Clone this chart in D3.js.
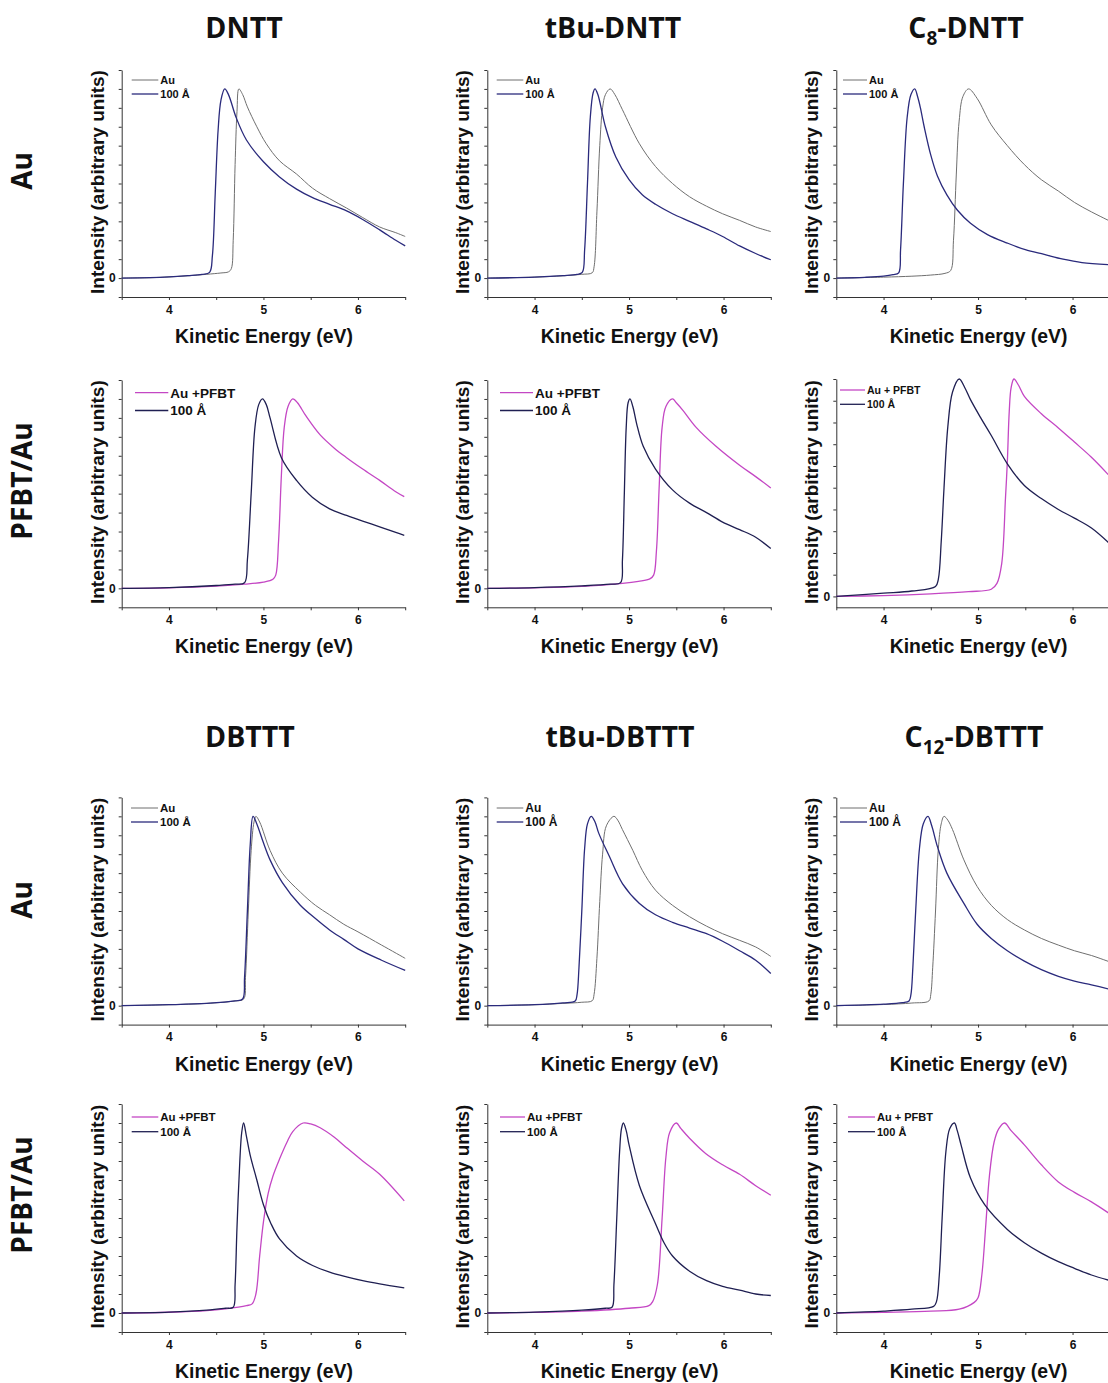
<!DOCTYPE html>
<html><head><meta charset="utf-8">
<script src="https://cdn.jsdelivr.net/npm/d3@7"></script>
<style>body{margin:0;background:#fff}</style>
</head><body><svg id="c" width="1108" height="1383"></svg>
<script>
// ---------- DATA (Kinetic energy eV, normalized intensity) ----------
// DNTT on Au
const dntt_Au = [[3.5,0],[3.8,0.002],[4.0,0.006],[4.2,0.012],[4.4,0.02],[4.55,0.027],[4.63,0.033],[4.66,0.05],[4.68,0.2],[4.70,0.6],[4.72,0.88],[4.74,1.0],[4.78,0.97],[4.83,0.905],[4.93,0.80],[5.03,0.71],[5.17,0.62],[5.35,0.55],[5.52,0.475],[5.7,0.42],[5.88,0.37],[6.05,0.32],[6.23,0.27],[6.4,0.24],[6.5,0.22]];
const dntt_100 = [[3.5,0],[3.8,0.002],[4.0,0.006],[4.2,0.013],[4.35,0.02],[4.43,0.03],[4.46,0.12],[4.49,0.45],[4.52,0.78],[4.55,0.94],[4.59,1.0],[4.63,0.97],[4.71,0.85],[4.82,0.73],[5.0,0.615],[5.17,0.535],[5.35,0.47],[5.52,0.425],[5.7,0.39],[5.88,0.355],[6.05,0.31],[6.23,0.255],[6.4,0.2],[6.5,0.17]];
// tBu-DNTT on Au
const tbuDntt_Au = [[3.5,0],[4.0,0.005],[4.3,0.012],[4.5,0.02],[4.61,0.028],[4.63,0.06],[4.66,0.35],[4.69,0.7],[4.72,0.9],[4.75,0.97],[4.80,1.0],[4.85,0.97],[4.93,0.89],[5.11,0.71],[5.28,0.59],[5.46,0.50],[5.64,0.43],[5.82,0.38],[5.99,0.34],[6.17,0.305],[6.34,0.27],[6.5,0.246]];
const tbuDntt_100 = [[3.5,0],[4.0,0.005],[4.3,0.013],[4.45,0.02],[4.505,0.03],[4.53,0.15],[4.56,0.5],[4.59,0.85],[4.62,0.98],[4.64,1.0],[4.67,0.97],[4.75,0.80],[4.86,0.64],[5.0,0.52],[5.14,0.44],[5.28,0.39],[5.46,0.34],[5.64,0.30],[5.82,0.26],[5.99,0.22],[6.17,0.17],[6.34,0.13],[6.5,0.097]];
// C8-DNTT on Au
const c8Dntt_Au = [[3.5,0],[4.0,0.005],[4.3,0.01],[4.5,0.016],[4.65,0.025],[4.71,0.04],[4.74,0.2],[4.77,0.55],[4.80,0.83],[4.84,0.96],[4.90,1.0],[4.99,0.95],[5.14,0.81],[5.31,0.70],[5.49,0.60],[5.67,0.52],[5.85,0.46],[6.02,0.40],[6.2,0.35],[6.4,0.30]];
const c8Dntt_100 = [[3.5,0],[3.8,0.004],[4.0,0.01],[4.1,0.018],[4.16,0.028],[4.18,0.15],[4.21,0.5],[4.25,0.85],[4.29,0.97],[4.33,1.0],[4.36,0.96],[4.39,0.90],[4.43,0.80],[4.50,0.65],[4.57,0.54],[4.67,0.44],[4.78,0.36],[4.92,0.29],[5.10,0.23],[5.31,0.185],[5.5,0.15],[5.7,0.125],[5.9,0.10],[6.1,0.082],[6.4,0.07]];
// DNTT on PFBT/Au
const dntt_PFBT = [[3.5,0],[4.0,0.003],[4.5,0.012],[4.8,0.022],[5.0,0.033],[5.1,0.048],[5.13,0.07],[5.16,0.25],[5.19,0.6],[5.22,0.85],[5.26,0.96],[5.31,1.0],[5.36,0.98],[5.45,0.91],[5.6,0.81],[5.75,0.74],[5.88,0.69],[6.05,0.63],[6.23,0.57],[6.4,0.51],[6.49,0.484]];
const dntt_P100 = [[3.5,0],[4.0,0.004],[4.5,0.015],[4.7,0.022],[4.80,0.03],[4.83,0.15],[4.87,0.5],[4.91,0.85],[4.95,0.97],[4.99,1.0],[5.03,0.97],[5.07,0.90],[5.19,0.69],[5.35,0.57],[5.52,0.48],[5.7,0.42],[5.88,0.385],[6.05,0.355],[6.23,0.325],[6.4,0.295],[6.49,0.28]];
// tBu-DNTT on PFBT/Au
const tbuDntt_PFBT = [[3.5,0],[4.0,0.003],[4.5,0.01],[4.93,0.026],[5.1,0.037],[5.22,0.05],[5.26,0.07],[5.29,0.2],[5.32,0.55],[5.35,0.85],[5.39,0.96],[5.46,1.0],[5.5,0.98],[5.57,0.94],[5.71,0.85],[5.92,0.75],[6.17,0.65],[6.34,0.59],[6.5,0.53]];
const tbuDntt_P100 = [[3.5,0],[4.0,0.004],[4.5,0.013],[4.8,0.022],[4.91,0.03],[4.93,0.15],[4.95,0.5],[4.97,0.85],[4.99,0.98],[5.01,1.0],[5.04,0.96],[5.08,0.87],[5.15,0.75],[5.28,0.63],[5.46,0.52],[5.64,0.45],[5.82,0.40],[5.99,0.35],[6.17,0.31],[6.34,0.27],[6.5,0.21]];
// C8-DNTT on PFBT/Au
const c8Dntt_PFBT = [[3.5,0],[4.0,0.004],[4.5,0.012],[4.9,0.022],[5.14,0.033],[5.20,0.06],[5.25,0.15],[5.29,0.45],[5.31,0.62],[5.33,0.85],[5.35,0.96],[5.38,1.0],[5.43,0.97],[5.49,0.92],[5.67,0.84],[5.85,0.775],[6.02,0.71],[6.2,0.64],[6.4,0.55]];
const c8Dntt_P100 = [[3.5,0],[4.0,0.015],[4.3,0.025],[4.55,0.046],[4.58,0.08],[4.61,0.25],[4.64,0.5],[4.68,0.78],[4.73,0.94],[4.80,1.0],[4.86,0.96],[4.92,0.905],[5.03,0.82],[5.14,0.74],[5.31,0.61],[5.49,0.51],[5.67,0.45],[5.85,0.40],[6.02,0.36],[6.2,0.315],[6.4,0.24]];
// DBTTT on Au
const dbttt_Au = [[3.5,0],[4.0,0.005],[4.4,0.012],[4.7,0.025],[4.79,0.035],[4.81,0.15],[4.84,0.5],[4.87,0.82],[4.90,0.97],[4.92,1.0],[4.96,0.97],[5.07,0.82],[5.2,0.70],[5.39,0.60],[5.55,0.53],[5.7,0.48],[5.85,0.43],[6.0,0.39],[6.25,0.32],[6.5,0.25]];
const dbttt_100 = [[3.5,0],[4.0,0.005],[4.4,0.012],[4.7,0.025],[4.78,0.035],[4.80,0.15],[4.83,0.5],[4.86,0.85],[4.89,1.0],[4.93,0.96],[5.0,0.86],[5.07,0.77],[5.2,0.65],[5.39,0.53],[5.55,0.46],[5.7,0.40],[5.85,0.35],[6.0,0.30],[6.25,0.24],[6.5,0.186]];
// tBu-DBTTT on Au
const tbuDbttt_Au = [[3.5,0],[4.0,0.005],[4.3,0.012],[4.5,0.018],[4.61,0.026],[4.63,0.06],[4.66,0.25],[4.69,0.55],[4.72,0.8],[4.76,0.95],[4.84,1.0],[4.88,0.98],[4.93,0.93],[5.04,0.82],[5.14,0.715],[5.28,0.61],[5.46,0.53],[5.64,0.47],[5.82,0.42],[5.99,0.38],[6.17,0.345],[6.34,0.31],[6.5,0.26]];
const tbuDbttt_100 = [[3.5,0],[4.0,0.005],[4.3,0.015],[4.43,0.025],[4.45,0.06],[4.47,0.2],[4.50,0.5],[4.53,0.83],[4.56,0.96],[4.60,1.0],[4.64,0.97],[4.68,0.91],[4.79,0.79],[4.93,0.645],[5.11,0.54],[5.28,0.48],[5.46,0.44],[5.64,0.41],[5.82,0.38],[5.99,0.34],[6.17,0.29],[6.34,0.24],[6.5,0.17]];
// C12-DBTTT on Au
const c12Dbttt_Au = [[3.5,0],[4.0,0.006],[4.3,0.014],[4.48,0.025],[4.50,0.06],[4.52,0.2],[4.55,0.5],[4.58,0.83],[4.61,0.96],[4.64,1.0],[4.68,0.98],[4.73,0.93],[4.85,0.77],[4.99,0.63],[5.14,0.53],[5.31,0.455],[5.49,0.40],[5.67,0.355],[5.85,0.32],[6.02,0.29],[6.2,0.265],[6.4,0.23]];
const c12Dbttt_100 = [[3.5,0],[4.0,0.008],[4.2,0.016],[4.27,0.025],[4.29,0.06],[4.31,0.2],[4.34,0.5],[4.38,0.83],[4.42,0.96],[4.47,1.0],[4.51,0.95],[4.57,0.84],[4.67,0.70],[4.85,0.54],[4.99,0.43],[5.14,0.355],[5.31,0.29],[5.49,0.235],[5.67,0.19],[5.85,0.155],[6.02,0.13],[6.2,0.11],[6.4,0.086]];
// DBTTT on PFBT/Au
const dbttt_PFBT = [[3.5,0],[4.0,0.004],[4.4,0.012],[4.6,0.022],[4.82,0.039],[4.88,0.048],[4.92,0.1],[4.96,0.3],[5.0,0.48],[5.05,0.63],[5.10,0.72],[5.17,0.81],[5.25,0.90],[5.31,0.955],[5.42,1.0],[5.5,0.995],[5.6,0.975],[5.75,0.925],[5.88,0.87],[6.05,0.80],[6.23,0.73],[6.49,0.59]];
const dbttt_P100 = [[3.5,0],[4.0,0.005],[4.4,0.015],[4.6,0.025],[4.68,0.03],[4.70,0.15],[4.72,0.45],[4.75,0.8],[4.77,0.95],[4.79,1.0],[4.82,0.93],[4.86,0.83],[4.93,0.70],[5.0,0.57],[5.08,0.47],[5.17,0.39],[5.35,0.30],[5.52,0.25],[5.7,0.215],[5.88,0.19],[6.05,0.17],[6.23,0.153],[6.49,0.132]];
// tBu-DBTTT on PFBT/Au
const tbuDbttt_PFBT = [[3.5,0],[4.0,0.003],[4.5,0.01],[5.0,0.025],[5.21,0.039],[5.25,0.06],[5.30,0.15],[5.35,0.5],[5.39,0.82],[5.43,0.95],[5.50,1.0],[5.55,0.97],[5.64,0.92],[5.81,0.84],[5.99,0.78],[6.17,0.73],[6.34,0.67],[6.5,0.62]];
const tbuDbttt_P100 = [[3.5,0],[4.0,0.005],[4.5,0.015],[4.75,0.025],[4.82,0.03],[4.84,0.15],[4.87,0.5],[4.90,0.85],[4.92,0.97],[4.94,1.0],[4.97,0.96],[5.0,0.885],[5.11,0.67],[5.28,0.47],[5.37,0.37],[5.46,0.30],[5.64,0.22],[5.82,0.17],[5.99,0.14],[6.17,0.12],[6.34,0.10],[6.5,0.092]];
// C12-DBTTT on PFBT/Au
const c12Dbttt_PFBT = [[3.5,0],[4.0,0.004],[4.5,0.01],[4.8,0.02],[4.96,0.056],[5.0,0.08],[5.04,0.2],[5.08,0.45],[5.12,0.72],[5.17,0.9],[5.22,0.97],[5.28,1.0],[5.35,0.96],[5.49,0.885],[5.67,0.78],[5.85,0.69],[6.02,0.635],[6.2,0.585],[6.4,0.52]];
const c12Dbttt_P100 = [[3.5,0],[4.0,0.01],[4.3,0.02],[4.53,0.035],[4.56,0.06],[4.59,0.2],[4.62,0.5],[4.66,0.85],[4.70,0.97],[4.75,1.0],[4.78,0.96],[4.82,0.885],[4.92,0.71],[5.07,0.57],[5.31,0.44],[5.49,0.37],[5.67,0.315],[5.85,0.27],[6.02,0.235],[6.2,0.20],[6.4,0.17]];

// Labels
const titlesTop = ["DNTT", "tBu-DNTT", ["C","8","-DNTT"]];
const titlesBottom = ["DBTTT", "tBu-DBTTT", ["C","12","-DBTTT"]];
const rowLabels = ["Au", "PFBT/Au", "Au", "PFBT/Au"];
const xTickLabels = [4, 5, 6];
const legendAu = ["Au", "100 Å"];
const legendPFBT = ["Au +PFBT", "100 Å"];
const legendPFBT2 = ["Au + PFBT", "100 Å"];

// ---------- LAYOUT ----------
const COLX = [121.7, 487.3, 836.3];
const PW = 283.5;
const ROWS = [{top:70,bottom:297},{top:380,bottom:607.3},{top:797.4,bottom:1024.6},{top:1104,bottom:1332}];
const COL = {gray:"#6f6f6f", navy:"#2a2a7c", navyD:"#1f1f52", mag:"#c447c4"};

const panels = [
 {r:0,c:0,s:[dntt_Au,dntt_100],k:["gray","navy"],lg:legendAu,lf:11,lx:[10,36.6],ly:[10,24]},
 {r:0,c:1,s:[tbuDntt_Au,tbuDntt_100],k:["gray","navy"],lg:legendAu,lf:11,lx:[9.4,36],ly:[10,24]},
 {r:0,c:2,s:[c8Dntt_Au,c8Dntt_100],k:["gray","navy"],lg:legendAu,lf:11,lx:[6.7,30.7],ly:[10,24]},
 {r:1,c:0,s:[dntt_PFBT,dntt_P100],k:["mag","navyD"],lg:legendPFBT,lf:13.5,lx:[13.3,46.6],ly:[12.7,30.5]},
 {r:1,c:1,s:[tbuDntt_PFBT,tbuDntt_P100],k:["mag","navyD"],lg:legendPFBT,lf:13.5,lx:[12.7,45.7],ly:[12.7,30.5]},
 {r:1,c:2,s:[c8Dntt_PFBT,c8Dntt_P100],k:["mag","navyD"],lg:legendPFBT2,lf:10.5,lx:[3.7,28.7],ly:[11,25.3],yd:[-0.05,1.0],top:379},
 {r:2,c:0,s:[dbttt_Au,dbttt_100],k:["gray","navy"],lg:legendAu,lf:11.5,lx:[9.3,36.3],ly:[10.6,24.6]},
 {r:2,c:1,s:[tbuDbttt_Au,tbuDbttt_100],k:["gray","navy"],lg:legendAu,lf:12,lx:[9.4,36],ly:[10.6,24.6]},
 {r:2,c:2,s:[c12Dbttt_Au,c12Dbttt_100],k:["gray","navy"],lg:legendAu,lf:12,lx:[3.7,30.7],ly:[10.6,24.6]},
 {r:3,c:0,s:[dbttt_PFBT,dbttt_P100],k:["mag","navyD"],lg:legendPFBT,lf:11.5,lx:[10,36.6],ly:[13,27.7]},
 {r:3,c:1,s:[tbuDbttt_PFBT,tbuDbttt_P100],k:["mag","navyD"],lg:legendPFBT,lf:11.5,lx:[12.7,37.7],ly:[13,27.7]},
 {r:3,c:2,s:[c12Dbttt_PFBT,c12Dbttt_P100],k:["mag","navyD"],lg:legendPFBT2,lf:11,lx:[11.7,38.7],ly:[13,27.7]}
];

const svg = d3.select("#c");
svg.append("rect").attr("width",1108).attr("height",1383).attr("fill","#fff");
const AF = "'Liberation Sans', Arial, sans-serif";
const TF = "'Open Sans', 'Noto Sans', sans-serif";

panels.forEach(p => {
  const R = ROWS[p.r];
  const top = p.top || R.top, bottom = R.bottom;
  const x0 = COLX[p.c];
  const yd = p.yd || [-0.1, 1.1];
  const x = d3.scaleLinear([3.5, 6.5], [x0, x0 + PW]);
  const y = d3.scaleLinear(yd, [bottom, top]);
  const g = svg.append("g");

  // axes
  const xa = d3.axisBottom(x).tickValues(d3.range(7).map(i => 3.5 + i*0.5))
    .tickSize(3).tickSizeOuter(0).tickPadding(5)
    .tickFormat(d => xTickLabels.includes(d) ? String(d) : "");
  const gx = g.append("g").attr("transform", `translate(0,${bottom})`).call(xa);
  const yt = p.yd ? d3.range(0, 11).map(i => i/10) : d3.range(-1, 12).map(i => i/10);
  const ya = d3.axisLeft(y).tickValues(yt).tickSize(3).tickSizeOuter(0).tickPadding(3)
    .tickFormat(d => Math.abs(d) < 1e-9 ? "0" : "");
  const gy = g.append("g").attr("transform", `translate(${x0},0)`).call(ya);
  [gx, gy].forEach(a => {
    a.selectAll("path,line").attr("stroke", "#333").attr("stroke-width", 1);
    a.selectAll("text").attr("font-family", AF).attr("font-weight", "bold")
      .attr("font-size", 12).attr("fill", "#111");
  });

  // curves
  const line = d3.line().x(d => x(d[0])).y(d => y(d[1])).curve(d3.curveCatmullRom.alpha(0.5));
  p.s.forEach((ser, i) => {
    const kind = p.k[i];
    g.append("path").datum(ser).attr("d", line).attr("fill", "none")
      .attr("stroke", COL[kind]).attr("stroke-width", kind === "gray" ? 1 : 1.3)
      .attr("stroke-linejoin", "round");
  });

  // legend
  p.lg.forEach((t, i) => {
    const ly = top + p.ly[i];
    const kind = p.k[i];
    g.append("line").attr("x1", x0 + p.lx[0]).attr("x2", x0 + p.lx[1])
      .attr("y1", ly).attr("y2", ly).attr("stroke", COL[kind])
      .attr("stroke-width", kind === "gray" ? 1 : 1.3);
    g.append("text").attr("x", x0 + p.lx[1] + 2).attr("y", ly).attr("dy", "0.36em")
      .attr("font-family", AF).attr("font-weight", "bold").attr("font-size", p.lf)
      .attr("fill", "#111").text(t);
  });

  // axis titles
  g.append("text").attr("x", x0 + PW/2 + 0.5).attr("y", bottom + 46)
    .attr("text-anchor", "middle").attr("font-family", AF).attr("font-weight", "bold")
    .attr("font-size", 19.4).attr("fill", "#111").text("Kinetic Energy (eV)");
  const cy = (R.top + R.bottom) / 2 - 1.5;
  g.append("text").attr("transform", `translate(${x0 - 24.5},${cy}) rotate(-90)`)
    .attr("dy", "0.35em").attr("text-anchor", "middle").attr("font-family", AF)
    .attr("font-weight", "bold").attr("font-size", 19).attr("fill", "#111")
    .text("Intensity (arbitrary units)");
});

// column titles
function title(t, cx, by) {
  const tx = svg.append("text").attr("x", cx).attr("y", by).attr("text-anchor", "middle")
    .attr("font-family", TF).attr("font-weight", "bold").attr("font-size", 28.5).attr("fill", "#111");
  if (Array.isArray(t)) {
    tx.append("tspan").text(t[0]);
    tx.append("tspan").attr("font-size", 19).attr("dy", 7).text(t[1]);
    tx.append("tspan").attr("dy", -7).text(t[2]);
  } else tx.text(t);
}
const titleX = [[244, 613, 966], [250, 620, 974]];
titlesTop.forEach((t, i) => title(t, titleX[0][i], 38));
titlesBottom.forEach((t, i) => title(t, titleX[1][i], 747));

// row labels
const rowCY = [171, 481, 900, 1195];
rowLabels.forEach((t, i) => {
  svg.append("text").attr("transform", `translate(22,${rowCY[i]}) rotate(-90)`)
    .attr("dy", "0.35em").attr("text-anchor", "middle").attr("font-family", TF)
    .attr("font-weight", "bold").attr("font-size", 28).attr("fill", "#111").text(t);
});
</script>
</body></html>
